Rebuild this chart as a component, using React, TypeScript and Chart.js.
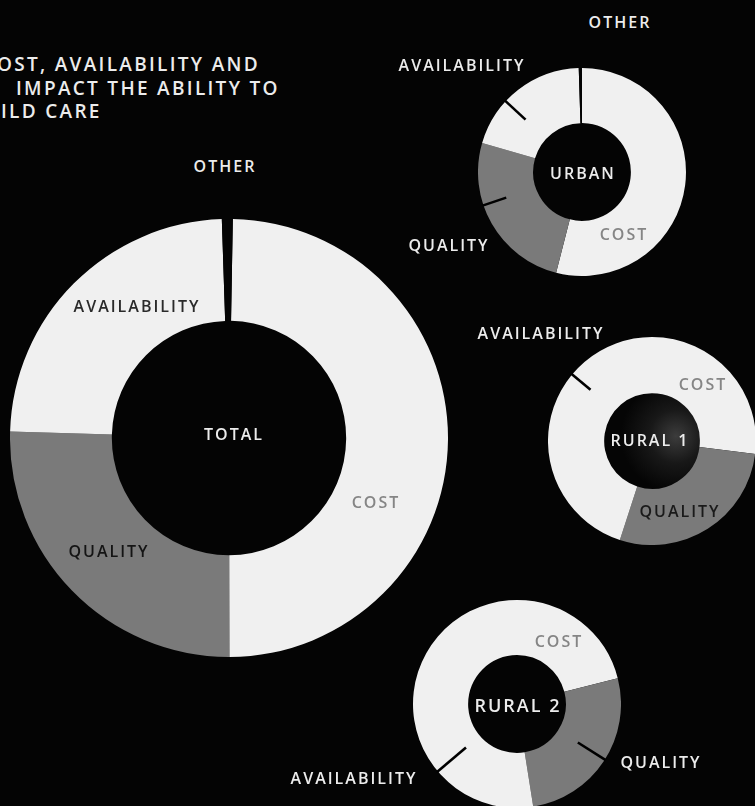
import React, { useEffect, useRef } from "react";
import { Chart, registerables } from "chart.js";

Chart.register(...registerables);

// ---- data ----
const categories = ["Cost", "Quality", "Availability", "Other"];
const totalValues = [49.7, 25.5, 24, 0.8];
const urbanValues = [54, 25.5, 20, 0.5];
const rural1Values = [27, 28, 45, 0];
const rural2Values = [21, 26.5, 52.5, 0];
const titleLines = ["OST, AVAILABILITY AND", "IMPACT THE ABILITY TO", "ILD CARE"];
const centerNames = ["TOTAL", "URBAN", "RURAL 1", "RURAL 2"];
const segmentLabels = ["COST", "QUALITY", "AVAILABILITY", "OTHER"];

// ---- styles ----
const WHITE = "#f0f0f0";
const GRAY = "#7a7a7a";
const BG = "#040404";
const segmentColors = [WHITE, GRAY, WHITE, BG];
const FONT = "'Open Sans', 'Lato', sans-serif";

const leaderTicksPlugin = {
  id: "leaderTicks",
  afterDatasetsDraw(chart: any, _args: any, opts: any) {
    const ticks = (opts && opts.ticks) || [];
    const meta = chart.getDatasetMeta(0);
    const ctx = chart.ctx;
    ctx.save();
    ctx.strokeStyle = "#000";
    ctx.lineWidth = 2.6;
    ctx.lineCap = "butt";
    for (const t of ticks) {
      const arc = meta.data[t.index];
      if (!arc) continue;
      const p = arc.getProps(["x", "y", "startAngle", "endAngle", "outerRadius"], true);
      const a = p.startAngle + t.frac * (p.endAngle - p.startAngle);
      const r0 = p.outerRadius + 1;
      const r1 = p.outerRadius - t.len;
      ctx.beginPath();
      ctx.moveTo(p.x + Math.cos(a) * r0, p.y + Math.sin(a) * r0);
      ctx.lineTo(p.x + Math.cos(a) * r1, p.y + Math.sin(a) * r1);
      ctx.stroke();
    }
    ctx.restore();
  },
};

type Tick = { index: number; frac: number; len: number };

function Donut(props: {
  values: number[];
  cx: number;
  cy: number;
  r: number;
  cutout: string;
  rotation?: number;
  ticks: Tick[];
}) {
  const { values, cx, cy, r, cutout, ticks, rotation = 0 } = props;
  const ref = useRef<HTMLCanvasElement>(null);
  const size = r * 2;
  useEffect(() => {
    const chart = new Chart(ref.current as HTMLCanvasElement, {
      type: "doughnut",
      data: {
        labels: categories,
        datasets: [
          {
            data: values,
            backgroundColor: segmentColors,
            borderWidth: 0,
            hoverOffset: 0,
          },
        ],
      },
      options: {
        responsive: false,
        maintainAspectRatio: false,
        animation: false,
        events: [],
        cutout,
        rotation,
        layout: { padding: 0 },
        plugins: {
          legend: { display: false },
          tooltip: { enabled: false },
          // @ts-ignore
          leaderTicks: { ticks },
        },
      },
      plugins: [leaderTicksPlugin as any],
    });
    return () => chart.destroy();
  }, []);
  return (
    <canvas
      ref={ref}
      width={size}
      height={size}
      style={{ position: "absolute", left: cx - r, top: cy - r, width: size, height: size }}
    />
  );
}

function Label(props: { text: string; x: number; y: number; color?: string; size?: number }) {
  const { text, x, y, color = "#ececec", size = 16 } = props;
  return (
    <div
      style={{
        position: "absolute",
        left: x,
        top: y,
        transform: "translate(-50%, -50%)",
        whiteSpace: "nowrap",
        fontFamily: FONT,
        fontWeight: 600,
        fontSize: size,
        letterSpacing: "2px",
        lineHeight: 1,
        color,
      }}
    >
      {text}
    </div>
  );
}

export default function App() {
  const DARK = "#2a2a2a";
  const MID = "#858585";
  return (
    <div
      style={{
        position: "fixed",
        left: 0,
        top: 0,
        width: 755,
        height: 806,
        overflow: "hidden",
        background: BG,
      }}
    >
      {/* title */}
      {titleLines.map((line, i) => (
        <div
          key={i}
          style={{
            position: "absolute",
            left: [-3, 16, 1][i],
            top: [64, 88, 111][i],
            transform: "translateY(-50%)",
            whiteSpace: "nowrap",
            fontFamily: FONT,
            fontWeight: 600,
            fontSize: 19,
            letterSpacing: "2.3px",
            lineHeight: 1,
            color: "#ececec",
          }}
        >
          {line}
        </div>
      ))}

      {/* rural 1 hole shading */}
      <div
        style={{
          position: "absolute",
          left: 652 - 48,
          top: 441 - 48,
          width: 96,
          height: 96,
          borderRadius: "50%",
          background: "radial-gradient(circle at 75% 45%, #3c3c3c 0%, #181818 30%, #050505 62%)",
        }}
      />

      <Donut values={totalValues} cx={229} cy={438} r={219} cutout="53.5%" rotation={1} ticks={[]} />
      <Donut
        values={urbanValues}
        cx={582}
        cy={172}
        r={104}
        cutout="47%"
        ticks={[
          { index: 2, frac: 0.37, len: 27 },
          { index: 1, frac: 0.62, len: 24 },
        ]}
      />
      <Donut
        values={rural1Values}
        cx={652}
        cy={441}
        r={104}
        cutout="46%"
        ticks={[{ index: 2, frac: 0.69, len: 24 }]}
      />
      <Donut
        values={rural2Values}
        cx={517}
        cy={704}
        r={104}
        cutout="47%"
        ticks={[
          { index: 2, frac: 0.31, len: 37 },
          { index: 1, frac: 0.49, len: 32 },
        ]}
      />

      {/* total labels */}
      <Label text={segmentLabels[3]} x={225} y={166} />
      <Label text={segmentLabels[2]} x={137} y={306} color={DARK} />
      <Label text={centerNames[0]} x={234} y={434} />
      <Label text={segmentLabels[0]} x={376} y={502} color={MID} />
      <Label text={segmentLabels[1]} x={109} y={551} color="#141414" />

      {/* urban labels */}
      <Label text={segmentLabels[3]} x={620} y={22} />
      <Label text={segmentLabels[2]} x={462} y={65} />
      <Label text={centerNames[1]} x={583} y={173} />
      <Label text={segmentLabels[0]} x={624} y={234} color={MID} />
      <Label text={segmentLabels[1]} x={449} y={245} />

      {/* rural 1 labels */}
      <Label text={segmentLabels[2]} x={541} y={333} />
      <Label text={segmentLabels[0]} x={703} y={384} color={MID} />
      <Label text={centerNames[2]} x={650} y={440} />
      <Label text={segmentLabels[1]} x={680} y={511} color="#1a1a1a" />

      {/* rural 2 labels */}
      <Label text={segmentLabels[0]} x={559} y={641} color={MID} />
      <Label text={centerNames[3]} x={518} y={705} size={18} />
      <Label text={segmentLabels[1]} x={661} y={762} />
      <Label text={segmentLabels[2]} x={354} y={778} />
    </div>
  );
}
